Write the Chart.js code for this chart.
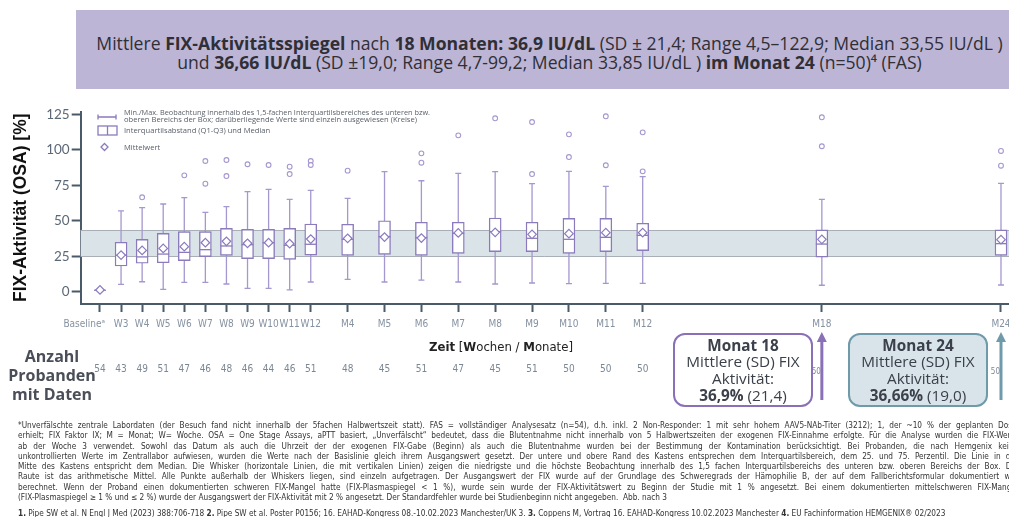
<!DOCTYPE html>
<html lang="de">
<head>
<meta charset="utf-8">
<script src="https://cdn.jsdelivr.net/npm/chart.js@4.4.0/dist/chart.umd.min.js"></script>
<style>
  html, body { margin: 0; padding: 0; background: #fff; }
  body { width: 1009px; height: 517px; position: relative; overflow: hidden; font-family: "Open Sans", "Noto Sans", sans-serif; }
  #wrap { position: absolute; left: 0; top: 0; width: 1009px; height: 517px; }
  .header { position: absolute; left: 76px; top: 10px; width: 919px; padding-left: 14px; height: 79px; background: #bdb5d6;
            display: flex; flex-direction: column; justify-content: center; align-items: center; color: #2f2f35; font-size: 17.6px; line-height: 19px; }
  .header div { white-space: nowrap; }
  .header .l1 { margin-top: 6px; }
  .header b { font-weight: 700; }
  .anzahl { position: absolute; left: 0; top: 347px; width: 104px; text-align: center; font-weight: 700; font-size: 16px; line-height: 19px; color: #4a4e58; }
  .zeit { position: absolute; left: 401px; top: 339px; width: 200px; text-align: center; font-family: "Liberation Sans Narrow", "DejaVu Sans Condensed", sans-serif; font-size: 13px; color: #222; }
  .callout { position: absolute; top: 333px; width: 136px; height: 70px; border-radius: 12px; border: 2px solid; text-align: center;
             font-size: 15.3px; line-height: 16.7px; color: #3b404a; display: flex; flex-direction: column; justify-content: center; }
  .c18 { left: 673px; border-color: #8a70b6; background: #fff; }
  .c24 { left: 848px; border-color: #6f9aaa; background: #d9e4ea; }
  .notes { position: absolute; left: 18px; top: 420px; width: 1000px; font-family: "Liberation Sans Narrow", "DejaVu Sans Condensed", sans-serif;
           font-size: 8.2px; line-height: 10.3px; color: #333; }
  .notes div { white-space: nowrap; text-align: justify; text-align-last: justify; }
  .notes div.last { text-align-last: left; }
  .notes div.gap { height: 5.4px; }
</style>
</head>
<body>
<div id="wrap"><canvas id="chart" width="1009" height="517"></canvas></div>

<div class="header">
  <div class="l1">Mittlere <b>FIX-Aktivitätsspiegel</b> nach <b>18 Monaten: 36,9 IU/dL</b> (SD ± 21,4; Range 4,5–122,9; Median 33,55 IU/dL )</div>
  <div>und <b>36,66 IU/dL</b> (SD ±19,0; Range 4,7-99,2; Median 33,85 IU/dL ) <b>im Monat 24</b> (n=50)⁴ (FAS)</div>
</div>

<div class="anzahl">Anzahl<br>Probanden<br>mit Daten</div>
<div class="zeit"><b>Zeit</b> [<b>W</b>ochen / <b>M</b>onate]</div>

<div class="callout c18"><b>Monat 18</b>Mittlere (SD) FIX<br>Aktivität:<br><span><b>36,9%</b> (21,4)</span></div>
<div class="callout c24"><b>Monat 24</b>Mittlere (SD) FIX<br>Aktivität:<br><span><b>36,66%</b> (19,0)</span></div>

<div class="notes">
  <div>*Unverfälschte zentrale Labordaten (der Besuch fand nicht innerhalb der 5fachen Halbwertszeit statt). FAS = vollständiger Analysesatz (n=54), d.h. inkl. 2 Non-Responder: 1 mit sehr hohem AAV5-NAb-Titer (3212); 1, der ~10 % der geplanten Dosis</div>
  <div>erhielt; FIX Faktor IX; M = Monat; W= Woche. OSA = One Stage Assays, aPTT basiert, „Unverfälscht“ bedeutet, dass die Blutentnahme nicht innerhalb von 5 Halbwertszeiten der exogenen FIX-Einnahme erfolgte. Für die Analyse wurden die FIX-Werte</div>
  <div>ab der Woche 3 verwendet. Sowohl das Datum als auch die Uhrzeit der der exogenen FIX-Gabe (Beginn) als auch die Blutentnahme wurden bei der Bestimmung der Kontamination berücksichtigt. Bei Probanden, die nach Hemgenix keine</div>
  <div>unkontrollierten Werte im Zentrallabor aufwiesen, wurden die Werte nach der Basislinie gleich ihrem Ausgangswert gesetzt. Der untere und obere Rand des Kastens entsprechen dem Interquartilsbereich, dem 25. und 75. Perzentil. Die Linie in der</div>
  <div>Mitte des Kastens entspricht dem Median. Die Whisker (horizontale Linien, die mit vertikalen Linien) zeigen die niedrigste und die höchste Beobachtung innerhalb des 1,5 fachen Interquartilsbereichs des unteren bzw. oberen Bereichs der Box. Die</div>
  <div>Raute ist das arithmetische Mittel. Alle Punkte außerhalb der Whiskers liegen, sind einzeln aufgetragen. Der Ausgangswert der FIX wurde auf der Grundlage des Schweregrads der Hämophilie B, der auf dem Fallberichtsformular dokumentiert war</div>
  <div>berechnet. Wenn der Proband einen dokumentierten schweren FIX-Mangel hatte (FIX-Plasmaspiegel &lt; 1 %), wurde sein wurde der FIX-Aktivitätswert zu Beginn der Studie mit 1 % angesetzt. Bei einem dokumentierten mittelschweren FIX-Mangel</div>
  <div class="last">(FIX-Plasmaspiegel ≥ 1 % und ≤ 2 %) wurde der Ausgangswert der FIX-Aktivität mit 2 % angesetzt. Der Standardfehler wurde bei Studienbeginn nicht angegeben.&nbsp; Abb. nach 3</div>
  <div class="gap"></div>
  <div class="last"><b>1.</b> Pipe SW et al. N Engl J Med (2023) 388:706-718 <b>2.</b> Pipe SW et al. Poster P0156; 16. EAHAD-Kongress 08.-10.02.2023 Manchester/UK 3. <b>3.</b> Coppens M, Vortrag 16. EAHAD-Kongress 10.02.2023 Manchester <b>4.</b> EU Fachinformation HEMGENIX® 02/2023</div>
</div>

<script>
// Zeitpunkte (Kategorien)
const timepoints = ['Baselineᵃ', 'W3', 'W4', 'W5', 'W6', 'W7', 'W8', 'W9', 'W10', 'W11', 'W12',
                    'M4', 'M5', 'M6', 'M7', 'M8', 'M9', 'M10', 'M11', 'M12', 'M18', 'M24'];

// Boxplot-Kennwerte (FIX-Aktivität in %)
const whiskerLow  = [1, 5.2, 7, 1.6, 6.6, 6.6, 5.4, 2.3, 2.3, 1.2, 6.8, 8.7, 6.8, 8.2, 6.8, 5.4, 6.1, 5.6, 5.9, 5.9, 4.5, 4.7];
const q1          = [1, 18.1, 20, 20.4, 21.9, 24.7, 25.6, 23.3, 23.3, 22.8, 25.8, 25.6, 26.3, 25.6, 27, 28.2, 28.2, 27, 28.2, 28.9, 24.4, 25.6];
const median      = [1, 25.6, 24.5, 26.5, 27.7, 29.6, 32.2, 33.1, 34.5, 32.7, 33.4, 36.9, 38.8, 38.1, 41.1, 42.3, 37.6, 36.9, 38.3, 39.7, 33.55, 33.85];
const q3          = [1, 34.8, 36.9, 41.1, 42.3, 42.3, 44.6, 43.9, 43.9, 44.6, 47.7, 47.5, 50, 48.9, 48.9, 51.9, 48.9, 51.7, 51.7, 48.2, 43.5, 43.5];
const whiskerHigh = [1, 56.9, 59.2, 61.8, 66.3, 55.9, 59.9, 70.5, 72.1, 65.1, 71.4, 65.8, 84.6, 78.2, 83.4, 84.6, 76.1, 84.8, 74.2, 81.1, 65.1, 76.4];
const mean        = [1.2, 25.8, 29.1, 30.5, 31.7, 34.5, 35.5, 34.1, 34.5, 33.8, 37.1, 37.6, 38.5, 37.8, 41.4, 41.8, 40.4, 40.9, 41.6, 41.6, 36.9, 36.66];
const outliers    = [[], [], [66.5], [], [82], [92.1, 76.1], [92.8, 81.5], [89.8], [89.3], [88.1, 82.9], [92.1, 89.3],
                     [85.3], [], [97.5, 90.9], [110.2], [122.2], [119.6, 82.9], [110.9, 94.9], [123.6, 89.1], [112.3, 84.8],
                     [122.9, 102.5], [99.2, 88.8]];
const nPatients   = [54, 43, 49, 51, 47, 46, 48, 46, 44, 46, 51, 48, 45, 51, 47, 45, 51, 50, 50, 50, 50, 50];

// Normalbereich (grau-blaues Band)
const refBand = [25, 43.5];
const yTicks = [0, 25, 50, 75, 100, 125];

const PURPLE = '#8b7bbd';
const WHISKER = '#a597cf';
const AXIS = '#4b5a69';

// Achsenposition: Wochen eng, Monate weiter, Lücke vor M18/M24
function axisSlots(labels) {
    const out = [];
    let p = 0;
    labels.forEach((l, i) => {
        if (i > 0) {
            if (l.startsWith('W')) p += 4;
            else if (l === 'M18' || l === 'M24') p += 34;
            else p += 7;
        }
        out.push(p);
    });
    return out;
}
const xs = axisSlots(timepoints);

const boxPlugin = {
    id: 'boxplot',
    beforeDatasetsDraw(chart) {
        const { ctx, chartArea: a, scales: { x, y } } = chart;
        ctx.save();
        // Referenzband
        const yt = y.getPixelForValue(refBand[1]), yb = y.getPixelForValue(refBand[0]);
        ctx.fillStyle = '#dae3e8';
        ctx.fillRect(a.left, yt, a.right - a.left, yb - yt);
        ctx.strokeStyle = '#a8afb7';
        ctx.lineWidth = 1;
        ctx.beginPath();
        ctx.moveTo(a.left, Math.round(yt) + 0.5); ctx.lineTo(a.right, Math.round(yt) + 0.5);
        ctx.moveTo(a.left, Math.round(yb) + 0.5); ctx.lineTo(a.right, Math.round(yb) + 0.5);
        ctx.stroke();
        // Whisker
        ctx.strokeStyle = WHISKER;
        ctx.lineWidth = 1.3;
        xs.forEach((v, i) => {
            const px = x.getPixelForValue(v);
            const lo = y.getPixelForValue(whiskerLow[i]), hi = y.getPixelForValue(whiskerHigh[i]);
            ctx.beginPath();
            ctx.moveTo(px, lo); ctx.lineTo(px, hi);
            ctx.moveTo(px - 3, lo); ctx.lineTo(px + 3, lo);
            ctx.moveTo(px - 3, hi); ctx.lineTo(px + 3, hi);
            ctx.stroke();
        });
        ctx.restore();
    },
    afterDatasetDraw(chart, args) {
        if (args.index !== 2) return;
        const { ctx, scales: { x, y } } = chart;
        ctx.save();
        ctx.strokeStyle = PURPLE;
        ctx.lineWidth = 1.3;
        xs.forEach((v, i) => {
            const px = x.getPixelForValue(v);
            const py = y.getPixelForValue(median[i]);
            ctx.beginPath();
            ctx.moveTo(px - 6, py); ctx.lineTo(px + 6, py);
            ctx.stroke();
        });
        ctx.restore();
    },
    afterDraw(chart) {
        const { ctx, scales: { x } } = chart;
        ctx.save();
        // Legende
        ctx.strokeStyle = PURPLE;
        ctx.lineWidth = 1.3;
        ctx.beginPath();
        ctx.moveTo(98, 117); ctx.lineTo(116, 117);
        ctx.moveTo(98, 114.5); ctx.lineTo(98, 119.5);
        ctx.moveTo(116, 114.5); ctx.lineTo(116, 119.5);
        ctx.stroke();
        ctx.strokeRect(98, 126, 19, 9);
        ctx.beginPath(); ctx.moveTo(107.5, 126); ctx.lineTo(107.5, 135); ctx.stroke();
        ctx.beginPath();
        ctx.moveTo(104.5, 143.5); ctx.lineTo(108, 147); ctx.lineTo(104.5, 150.5); ctx.lineTo(101, 147); ctx.closePath();
        ctx.stroke();
        ctx.fillStyle = '#59606a';
        ctx.font = '7.6px "Open Sans", sans-serif';
        ctx.textBaseline = 'middle';
        ctx.textAlign = 'left';
        ctx.fillText('Min./Max. Beobachtung innerhalb des 1,5-fachen Interquartilsbereiches des unteren bzw.', 124, 112.5, 306);
        ctx.fillText('oberen Bereichs der Box; darüberliegende Werte sind einzeln ausgewiesen (Kreise)', 124, 120, 300);
        ctx.fillText('Interquartilsabstand (Q1-Q3) und Median', 124, 130.5);
        ctx.fillText('Mittelwert', 124, 147.5);

        // Pfeile zu M18 / M24
        [[20, '#8a70b6'], [21, '#6f9aaa']].forEach(([i, col]) => {
            const px = x.getPixelForValue(xs[i]);
            ctx.strokeStyle = col;
            ctx.fillStyle = col;
            ctx.lineWidth = 3;
            ctx.beginPath(); ctx.moveTo(px, 400); ctx.lineTo(px, 340); ctx.stroke();
            ctx.beginPath(); ctx.moveTo(px - 5, 342); ctx.lineTo(px, 332); ctx.lineTo(px + 5, 342); ctx.closePath(); ctx.fill();
        });

        // Anzahl Probanden
        ctx.fillStyle = '#7c8795';
        nPatients.forEach((n, i) => {
            const px = x.getPixelForValue(xs[i]);
            if (i >= 20) {
                ctx.font = '8px "Liberation Sans Narrow", "DejaVu Sans Condensed", sans-serif';
                ctx.textAlign = 'right';
                ctx.fillText(String(n), px - 1, 372);
            } else {
                ctx.font = '10px "Liberation Sans Narrow", "DejaVu Sans Condensed", sans-serif';
                ctx.textAlign = 'center';
                ctx.fillText(String(n), px, 369);
            }
        });
        ctx.restore();
    }
};

const boxData = xs.map((v, i) => ({ x: v, y: [q1[i], q3[i]] }));
const meanData = xs.map((v, i) => ({ x: v, y: mean[i] }));
const outlierData = [];
xs.forEach((v, i) => outliers[i].forEach(o => outlierData.push({ x: v, y: o })));

new Chart(document.getElementById('chart'), {
    type: 'scatter',
    data: {
        datasets: [
            { label: 'Mittelwert', data: meanData, pointStyle: 'rectRot', radius: 4.3,
              borderColor: PURPLE, backgroundColor: '#fff', borderWidth: 1.2 },
            { label: 'Ausreißer', data: outlierData, pointStyle: 'circle', radius: 2.4,
              borderColor: WHISKER, backgroundColor: '#fff', borderWidth: 1.1 },
            { type: 'bar', label: 'IQR', data: boxData, barThickness: 12, backgroundColor: '#fff',
              borderColor: PURPLE, borderWidth: 1.4, borderSkipped: false }
        ]
    },
    options: {
        responsive: false,
        animation: false,
        devicePixelRatio: 1,
        layout: { autoPadding: false, padding: { left: 0, right: 0, top: 111.5, bottom: 173 } },
        plugins: { legend: { display: false }, tooltip: { enabled: false } },
        scales: {
            x: {
                type: 'linear',
                offset: false,
                min: -3.66,
                max: 172.52,
                afterBuildTicks: s => { s.ticks = xs.map(v => ({ value: v })); },
                afterFit: s => { s.height = 40; s.paddingLeft = 0; s.paddingRight = 0; },
                ticks: {
                    autoSkip: false, maxRotation: 0, minRotation: 0, padding: 6,
                    color: '#8592a1',
                    font: { family: '"Liberation Sans Narrow", "DejaVu Sans Condensed", sans-serif', size: 10 },
                    // Baseline-Beschriftung links vom Tick (wie im Original)
                    callback: v => {
                        const i = xs.indexOf(v);
                        return i === 0 ? timepoints[i] + '\u2002'.repeat(7) : timepoints[i];
                    }
                },
                grid: { display: true, offset: false, drawOnChartArea: false, drawTicks: true, tickLength: 8, tickColor: AXIS, tickWidth: 2 },
                border: { display: true, color: AXIS, width: 2 }
            },
            y: {
                min: -8.7,
                max: 127,
                afterBuildTicks: s => { s.ticks = yTicks.map(v => ({ value: v })); },
                afterFit: s => { s.width = 80.7; s.paddingTop = 0; s.paddingBottom = 0; },
                ticks: {
                    padding: 2, color: '#5b6878',
                    font: { family: 'Lato, "Open Sans", sans-serif', size: 13.5 }
                },
                grid: { display: true, drawOnChartArea: false, drawTicks: true, tickLength: 9, tickColor: AXIS, tickWidth: 2 },
                border: { display: true, color: AXIS, width: 2 },
                title: {
                    display: true, text: 'FIX-Aktivität (OSA) [%]', color: '#111',
                    font: { family: '"Liberation Sans", Arial, sans-serif', size: 17.5, weight: 'bold' },
                    padding: { top: 11, bottom: 0 }
                }
            }
        }
    },
    plugins: [boxPlugin]
});
</script>
</body>
</html>
